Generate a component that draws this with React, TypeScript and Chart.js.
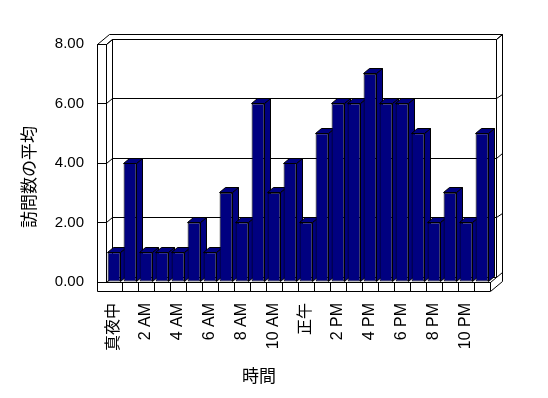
import React, { useEffect, useRef } from 'react';
import { Chart, registerables } from 'chart.js';

Chart.register(...registerables);

const hours = [
  '真夜中', '1 AM', '2 AM', '3 AM', '4 AM', '5 AM', '6 AM', '7 AM', '8 AM', '9 AM', '10 AM', '11 AM',
  '正午', '1 PM', '2 PM', '3 PM', '4 PM', '5 PM', '6 PM', '7 PM', '8 PM', '9 PM', '10 PM', '11 PM',
];
const visits = [1, 4, 1, 1, 1, 2, 1, 3, 2, 6, 3, 4, 2, 5, 6, 6, 7, 6, 6, 5, 2, 3, 2, 5];
const yTicks = [0, 2, 4, 6, 8];
const xTitle = '時間';
const yTitle = '訪問数の平均';

const BAR = '#000080';
const LATIN = "'Liberation Sans', Arial, 'Noto Sans CJK JP', sans-serif";
const CJK = "'Noto Sans CJK JP', 'Liberation Sans', sans-serif";

const a = (v: number) => Math.round(v - 0.5) + 0.5;

const frame3d = {
  id: 'frame3d',
  beforeDatasetsDraw(chart: any) {
    const { ctx, chartArea } = chart;
    const L = chartArea.left, R = chartArea.right, T = chartArea.top, B = chartArea.bottom;
    const yS = chart.scales.y;
    const dx = 6, dy = -5, ox = 12.5, oy = -9.5, th = 9;
    ctx.save();
    ctx.strokeStyle = '#000';
    ctx.lineWidth = 1;
    const poly = (pts: number[][], close = false) => {
      ctx.beginPath();
      ctx.moveTo(a(pts[0][0]), a(pts[0][1]));
      for (let i = 1; i < pts.length; i++) ctx.lineTo(a(pts[i][0]), a(pts[i][1]));
      if (close) ctx.closePath();
      ctx.stroke();
    };
    // back wall inner
    poly([[L + dx, B + dy], [L + dx, T + dy], [R + dx, T + dy], [R + dx, B + dy]]);
    // left wall front outer edge and floor front bottom
    poly([[L - th, T], [L - th, B + th], [R, B + th]]);
    // outer top edges and right outer edge
    poly([[L - th, T], [L - th + ox, T + oy], [R + ox, T + oy], [R + ox, B + th + oy], [R, B + th]]);
    // inner connectors
    poly([[L, T], [L + dx, T + dy]]);
    poly([[R + dx, T + dy], [R + ox, T + oy]]);
    poly([[R, B], [R + dx, B + dy]]);
    // gridlines on the walls
    yTicks.forEach((v) => {
      const yp = yS.getPixelForValue(v);
      poly([[L, yp], [L + dx, yp + dy], [R + dx, yp + dy], [R + ox, yp + dy - 4.5]]);
    });
    // bar depth faces (sides and tops), left to right
    const meta = chart.getDatasetMeta(0);
    meta.data.forEach((el: any) => {
      const { x, y, base, width } = el.getProps(['x', 'y', 'base', 'width'], true);
      const l = x - width / 2;
      const r = x + width / 2;
      const fillPoly = (pts: number[][]) => {
        ctx.beginPath();
        ctx.moveTo(a(pts[0][0]), a(pts[0][1]));
        for (let i = 1; i < pts.length; i++) ctx.lineTo(a(pts[i][0]), a(pts[i][1]));
        ctx.closePath();
        ctx.fillStyle = BAR;
        ctx.fill();
        ctx.stroke();
      };
      fillPoly([[r, y], [r + dx, y + dy], [r + dx, base + dy], [r, base]]);
      fillPoly([[l, y], [l + dx, y + dy], [r + dx, y + dy], [r, y]]);
    });
    ctx.restore();
  },
  afterDraw(chart: any) {
    const { ctx } = chart;
    ctx.save();
    ctx.fillStyle = '#000';
    ctx.font = `17px ${CJK}`;
    ctx.textAlign = 'center';
    ctx.textBaseline = 'middle';
    ctx.fillText(xTitle, 259, 376);
    ctx.translate(29, 177);
    ctx.rotate(-Math.PI / 2);
    ctx.fillText(yTitle, 0, 0);
    ctx.restore();
  },
};

export default function App() {
  const ref = useRef<HTMLCanvasElement>(null);
  useEffect(() => {
    if (!ref.current) return;
    const chart = new Chart(ref.current, {
      type: 'bar',
      data: {
        labels: hours,
        datasets: [
          {
            label: yTitle,
            data: visits,
            backgroundColor: BAR,
            borderColor: '#000',
            borderWidth: 1,
            borderSkipped: false,
            barPercentage: 0.8,
            categoryPercentage: 1,
          },
        ],
      },
      options: {
        responsive: false,
        animation: false,
        devicePixelRatio: 1,
        layout: { padding: { top: 44, right: 58, bottom: 0, left: 0 } },
        plugins: { legend: { display: false }, tooltip: { enabled: false }, title: { display: false } },
        scales: {
          x: {
            offset: true,
            afterFit: (s: any) => { s.height = 116; },
            grid: {
              offset: true,
              drawOnChartArea: false,
              drawTicks: true,
              tickLength: 9,
              color: (c: any) => (c.index === 0 ? 'rgba(0,0,0,0)' : '#000'),
            },
            border: { display: true, color: '#000' },
            ticks: {
              autoSkip: false,
              minRotation: 90,
              maxRotation: 90,
              padding: 12,
              color: '#000',
              font: { family: LATIN, size: 16 },
              callback: (_v: any, i: number) => (i % 2 === 0 ? hours[i] : ''),
            },
          },
          y: {
            min: 0,
            max: 8,
            afterFit: (s: any) => { s.width = 106; },
            afterBuildTicks: (s: any) => { s.ticks = yTicks.map((v) => ({ value: v })); },
            grid: { drawOnChartArea: false, drawTicks: true, tickLength: 9, color: '#000' },
            border: { display: true, color: '#000' },
            ticks: {
              padding: 13,
              color: '#000',
              font: { family: LATIN, size: 15 },
              callback: (v: any) => Number(v).toFixed(2),
            },
          },
        },
      },
      plugins: [frame3d],
    });
    return () => chart.destroy();
  }, []);
  return (
    <div style={{ position: 'fixed', left: 0, top: 0, width: 548, height: 398, background: '#fff' }}>
      <canvas ref={ref} width={548} height={398} />
    </div>
  );
}
